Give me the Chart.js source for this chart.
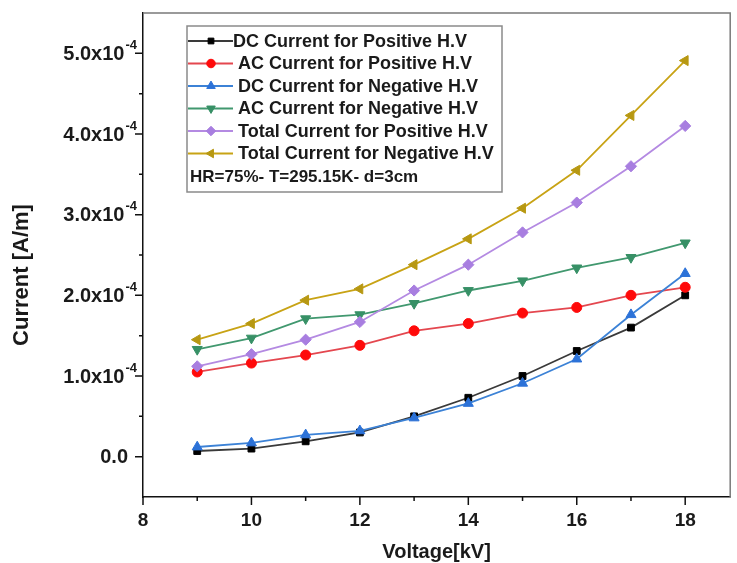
<!DOCTYPE html>
<html>
<head>
<meta charset="utf-8">
<script src="https://cdn.jsdelivr.net/npm/chart.js@4.4.1/dist/chart.umd.min.js"></script>
<style>
  html, body { margin: 0; padding: 0; background: #ffffff; }
  #wrap { width: 737px; height: 563px; position: relative; }
</style>
</head>
<body>
<div id="wrap"><canvas id="c" width="737" height="563"></canvas></div>
<script>
// Applied voltage (kV)
const voltages = [9, 10, 11, 12, 13, 14, 15, 16, 17, 18];

// Corona currents (A/m)
const dcPositive    = [0.07e-4, 0.10e-4, 0.19e-4, 0.30e-4, 0.50e-4, 0.73e-4, 1.00e-4, 1.31e-4, 1.60e-4, 2.00e-4];
const acPositive    = [1.05e-4, 1.16e-4, 1.26e-4, 1.38e-4, 1.56e-4, 1.65e-4, 1.78e-4, 1.85e-4, 2.00e-4, 2.10e-4];
const dcNegative    = [0.12e-4, 0.17e-4, 0.27e-4, 0.32e-4, 0.48e-4, 0.66e-4, 0.91e-4, 1.21e-4, 1.76e-4, 2.27e-4];
const acNegative    = [1.33e-4, 1.47e-4, 1.71e-4, 1.76e-4, 1.90e-4, 2.06e-4, 2.18e-4, 2.34e-4, 2.47e-4, 2.65e-4];
const totalPositive = [1.12e-4, 1.27e-4, 1.45e-4, 1.67e-4, 2.06e-4, 2.38e-4, 2.78e-4, 3.15e-4, 3.60e-4, 4.10e-4];
const totalNegative = [1.45e-4, 1.65e-4, 1.94e-4, 2.08e-4, 2.38e-4, 2.70e-4, 3.08e-4, 3.55e-4, 4.23e-4, 4.91e-4];

const seriesNames = [
  'DC Current for Positive H.V',
  'AC Current for Positive H.V',
  'DC Current for Negative H.V',
  'AC Current for Negative H.V',
  'Total Current for Positive H.V',
  'Total Current for Negative H.V'
];
const conditionsNote = 'HR=75%- T=295.15K- d=3cm';

// Axis ticks
const xTickValues = [8, 10, 12, 14, 16, 18];
const xTickLabels = ['8', '10', '12', '14', '16', '18'];
const xMinorValues = [9, 11, 13, 15, 17];
const yTickValues = [0, 1e-4, 2e-4, 3e-4, 4e-4, 5e-4];
const yTickMantissa = ['0.0', '1.0x10', '2.0x10', '3.0x10', '4.0x10', '5.0x10'];
const yTickExponent = ['', '-4', '-4', '-4', '-4', '-4'];
const yMinorValues = [0.5e-4, 1.5e-4, 2.5e-4, 3.5e-4, 4.5e-4];
const xTitle = 'Voltage[kV]';
const yTitle = 'Current [A/m]';

const FONT = '"Liberation Sans", Arial, sans-serif';

const styles = [
  { line: '#3a3a3a', fill: '#000000', pointStyle: 'rect',     rotation: 0,   radius: 4.8 },
  { line: '#e4474f', fill: '#ff0a0a', pointStyle: 'circle',   rotation: 0,   radius: 5.0 },
  { line: '#3c82d6', fill: '#2c72d8', pointStyle: 'triangle', rotation: 0,   radius: 5.8 },
  { line: '#41986f', fill: '#379066', pointStyle: 'triangle', rotation: 180, radius: 5.8 },
  { line: '#b48ae2', fill: '#a87ee0', pointStyle: 'rectRot',  rotation: 0,   radius: 5.6 },
  { line: '#c8a315', fill: '#b79812', pointStyle: 'triangle', rotation: -90, radius: 5.8 }
];
const seriesValues = [dcPositive, acPositive, dcNegative, acNegative, totalPositive, totalNegative];

const datasets = seriesValues.map((vals, i) => ({
  label: seriesNames[i],
  data: voltages.map((v, k) => ({ x: v, y: vals[k] })),
  borderColor: styles[i].line,
  backgroundColor: styles[i].fill,
  pointBackgroundColor: styles[i].fill,
  pointBorderColor: styles[i].fill,
  pointStyle: styles[i].pointStyle,
  pointRotation: styles[i].rotation,
  pointRadius: styles[i].radius,
  pointBorderWidth: 1,
  borderWidth: 1.8,
  tension: 0,
  order: 5 - i
}));

// Frame, ticks, tick labels, titles and the in-plot legend
const decorPlugin = {
  id: 'decor',
  afterDraw(chart) {
    const ctx = chart.ctx;
    const xs = chart.scales.x, ys = chart.scales.y;
    const area = chart.chartArea;
    ctx.save();

    // top and right frame lines
    ctx.strokeStyle = '#7a7a7a';
    ctx.lineWidth = 1.5;
    ctx.beginPath();
    ctx.moveTo(area.left, area.top);
    ctx.lineTo(area.right, area.top);
    ctx.lineTo(area.right, area.bottom);
    ctx.stroke();

    // ticks
    ctx.strokeStyle = '#111';
    ctx.lineWidth = 1.5;
    ctx.beginPath();
    yTickValues.forEach(v => { const y = ys.getPixelForValue(v); ctx.moveTo(area.left - 8, y); ctx.lineTo(area.left, y); });
    yMinorValues.forEach(v => { const y = ys.getPixelForValue(v); ctx.moveTo(area.left - 4, y); ctx.lineTo(area.left, y); });
    xTickValues.forEach(v => { const x = xs.getPixelForValue(v); ctx.moveTo(x, area.bottom); ctx.lineTo(x, area.bottom + 8); });
    xMinorValues.forEach(v => { const x = xs.getPixelForValue(v); ctx.moveTo(x, area.bottom); ctx.lineTo(x, area.bottom + 4); });
    ctx.stroke();

    ctx.fillStyle = '#1a1a1a';
    // y tick labels with superscript exponent
    yTickValues.forEach((v, i) => {
      const y = ys.getPixelForValue(v);
      const right = area.left - 6;
      ctx.font = 'bold 13px ' + FONT;
      const expW = yTickExponent[i] ? ctx.measureText(yTickExponent[i]).width : 0;
      ctx.textBaseline = 'middle';
      ctx.textAlign = 'left';
      if (yTickExponent[i]) ctx.fillText(yTickExponent[i], right - expW, y - 8);
      ctx.font = 'bold 20px ' + FONT;
      ctx.textAlign = 'right';
      const r = yTickExponent[i] ? right - expW - 1 : area.left - 15;
      ctx.fillText(yTickMantissa[i], r, y + 1);
    });

    // x tick labels
    ctx.font = 'bold 19px ' + FONT;
    ctx.textAlign = 'center';
    ctx.textBaseline = 'middle';
    xTickValues.forEach((v, i) => ctx.fillText(xTickLabels[i], xs.getPixelForValue(v), 521));

    // axis titles
    ctx.font = 'bold 20px ' + FONT;
    ctx.fillText(xTitle, (area.left + area.right) / 2, 552);
    ctx.save();
    ctx.translate(22, 275);
    ctx.rotate(-Math.PI / 2);
    ctx.font = 'bold 22px ' + FONT;
    ctx.fillText(yTitle, 0, 0);
    ctx.restore();

    // legend box
    const bx = 187, by = 26, bw = 315, bh = 166;
    ctx.fillStyle = '#ffffff';
    ctx.fillRect(bx, by, bw, bh);
    ctx.strokeStyle = '#8a8a8a';
    ctx.lineWidth = 1.5;
    ctx.strokeRect(bx, by, bw, bh);

    const rowY = [41, 63.5, 86, 108.5, 131, 153.5];
    ctx.font = 'bold 18px ' + FONT;
    ctx.textAlign = 'left';
    ctx.textBaseline = 'middle';
    seriesNames.forEach((name, i) => {
      const y = rowY[i];
      ctx.strokeStyle = styles[i].line;
      ctx.lineWidth = 1.8;
      ctx.beginPath();
      ctx.moveTo(bx + 1, y);
      ctx.lineTo(bx + 46, y);
      ctx.stroke();
      ctx.fillStyle = styles[i].fill;
      ctx.strokeStyle = styles[i].fill;
      ctx.lineWidth = 1;
      Chart.helpers.drawPoint(ctx, {
        pointStyle: styles[i].pointStyle,
        rotation: styles[i].rotation,
        radius: styles[i].radius * 0.85,
        borderWidth: 1
      }, bx + 24, y);
      ctx.fillStyle = '#1a1a1a';
      ctx.fillText(name, i === 0 ? bx + 46 : bx + 51, y + 1);
    });
    ctx.font = 'bold 17px ' + FONT;
    ctx.fillText(conditionsNote, bx + 3, 177);

    ctx.restore();
  }
};

new Chart(document.getElementById('c'), {
  type: 'line',
  data: { datasets },
  options: {
    responsive: false,
    animation: false,
    devicePixelRatio: 1,
    layout: { padding: { top: 13, right: 3, left: 0, bottom: 0 } },
    plugins: { legend: { display: false }, tooltip: { enabled: false } },
    scales: {
      x: {
        type: 'linear',
        min: 8,
        max: 18.83,
        grid: { display: true, drawOnChartArea: false, drawTicks: false },
        border: { display: true, color: '#111', width: 1.5 },
        ticks: { display: false },
        afterFit(scale) { scale.height = 66; }
      },
      y: {
        type: 'linear',
        min: -0.5e-4,
        max: 5.5e-4,
        grid: { display: true, drawOnChartArea: false, drawTicks: false },
        border: { display: true, color: '#111', width: 1.5 },
        ticks: { display: false },
        afterFit(scale) { scale.width = 143; }
      }
    }
  },
  plugins: [decorPlugin]
});
</script>
</body>
</html>
